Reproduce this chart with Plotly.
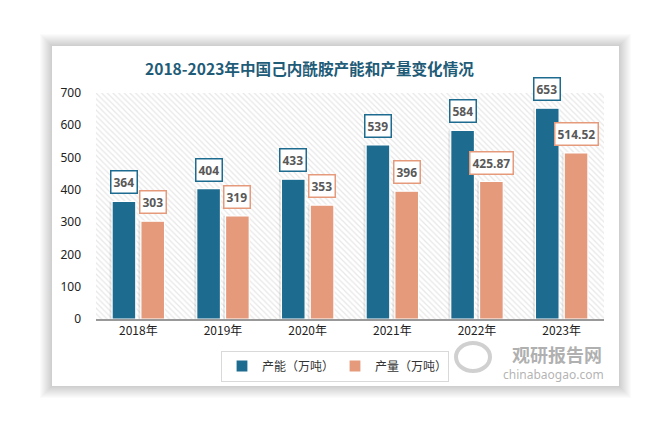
import plotly.graph_objects as go

# ---- data ----
years = ["2018年", "2019年", "2020年", "2021年", "2022年", "2023年"]
capacity = [364, 404, 433, 539, 584, 653]          # 产能（万吨）
output = [303, 319, 353, 396, 425.87, 514.52]      # 产量（万吨）
y_ticks = [0, 100, 200, 300, 400, 500, 600, 700]
title_text = "2018-2023年中国己内酰胺产能和产量变化情况"
series_names = ["产能（万吨）", "产量（万吨）"]

BLUE = "#1d6b8f"
ORANGE = "#e59a7b"
W, H = 666, 433
PL, PR, PT, PB = 96, 604, 93, 319


def px_x(x):
    return (x - PL) / (PR - PL)


def px_y(y):
    return (PB - y) / (PB - PT)


ymax = y_ticks[-1]
bar_w = 0.28
offs = [-0.31, 0.03]

fig = go.Figure()

# hatched plot-area background
fig.add_trace(go.Bar(
    x=[years[0]], y=[ymax], base=0, offset=-0.5, width=len(years),
    marker=dict(color="white", line=dict(width=0),
                pattern=dict(shape="\\", fgcolor="#cfcfcf", bgcolor="white",
                             size=4, solidity=0.3)),
    showlegend=False, hoverinfo="skip"))

# soft shadows
for vals, off in zip([capacity, output], offs):
    fig.add_trace(go.Bar(
        x=years, y=vals, offset=off - 0.03, width=bar_w,
        marker=dict(color="rgba(0,0,0,0.08)", line=dict(width=0)),
        showlegend=False, hoverinfo="skip"))

for vals, off, col, name in zip([capacity, output], offs, [BLUE, ORANGE], series_names):
    fig.add_trace(go.Bar(
        x=years, y=vals, offset=off, width=bar_w, name=name,
        marker=dict(color=col, line=dict(color="white", width=1.2))))

# data labels
cat_px = (PR - PL) / len(years)
for vals, off, col in zip([capacity, output], offs, [BLUE, ORANGE]):
    for yr, v in zip(years, vals):
        fig.add_annotation(
            x=yr, y=v, xref="x", yref="y", text=f"<b>{v:g}</b>",
            showarrow=False, xanchor="center", yanchor="bottom",
            xshift=(off + bar_w / 2) * cat_px, yshift=7,
            font=dict(family="Noto Sans, Liberation Sans, sans-serif", size=12, color="#595959"),
            bgcolor="white", bordercolor=col, borderwidth=1.5, borderpad=2)

# title
fig.add_annotation(
    x=px_x(309), y=px_y(68), xref="paper", yref="paper", text=f"<b>{title_text}</b>",
    showarrow=False, xanchor="center", yanchor="middle",
    font=dict(family="Noto Sans CJK SC", size=15.6, color="#1f5c78"))

# watermark
fig.add_annotation(
    x=px_x(557), y=px_y(354), xref="paper", yref="paper", text="<b>观研报告网</b>",
    showarrow=False, xanchor="center", yanchor="middle",
    font=dict(family="Noto Sans CJK SC", size=18, color="rgba(150,150,150,0.75)"))
fig.add_annotation(
    x=px_x(553), y=px_y(374), xref="paper", yref="paper", text="chinabaogao.com",
    showarrow=False, xanchor="center", yanchor="middle",
    font=dict(family="Noto Sans, sans-serif", size=12, color="rgba(160,160,160,0.8)"))

# card with shadow
shapes = []
cx0, cy0, cx1, cy1 = 52, 46, 619, 386
for i in range(12, 0, -1):
    shapes.append(dict(type="rect", xref="paper", yref="paper", layer="below",
                       x0=px_x(cx0 - i), x1=px_x(cx1 + i),
                       y0=px_y(cy1 + i), y1=px_y(cy0 - i),
                       fillcolor="rgba(0,0,0,0.015)", line=dict(width=0)))
shapes.append(dict(type="rect", xref="paper", yref="paper", layer="below",
                   x0=px_x(cx0), x1=px_x(cx1), y0=px_y(cy1), y1=px_y(cy0),
                   fillcolor="white", line=dict(width=0)))
# watermark logo swirl (approximate)
shapes.append(dict(type="circle", xref="paper", yref="paper", layer="above",
                   x0=px_x(456), x1=px_x(490), y0=px_y(371), y1=px_y(343),
                   line=dict(color="rgba(170,170,170,0.55)", width=4)))

fig.update_layout(
    width=W, height=H,
    margin=dict(l=PL, r=W - PR, t=PT, b=H - PB, autoexpand=False),
    paper_bgcolor="white", plot_bgcolor="rgba(0,0,0,0)",
    barmode="overlay",
    shapes=shapes,
    showlegend=True,
    legend=dict(orientation="h", x=px_x(335), y=px_y(366), xanchor="center", yanchor="middle",
                bordercolor="#d9d9d9", borderwidth=1, bgcolor="white",
                entrywidth=68, itemwidth=30,
                font=dict(family="Noto Sans CJK SC", size=12, color="#333333"),
                itemclick=False),
    xaxis=dict(type="category", range=[-0.5, len(years) - 0.5], showgrid=False,
               showline=True, linecolor="#999999", linewidth=1.5, ticks="",
               tickfont=dict(family="Noto Sans CJK SC", size=12, color="#222222")),
    yaxis=dict(range=[0, ymax], tickvals=y_ticks, showgrid=False, zeroline=False,
               showline=False, ticks="", ticklabelstandoff=14,
               tickfont=dict(family="Noto Sans, sans-serif", size=12, color="#222222")),
    font=dict(family="Noto Sans CJK SC"),
)

fig.write_html("out.html", config={"displayModeBar": False},
               post_script="document.body.style.margin='0';")
